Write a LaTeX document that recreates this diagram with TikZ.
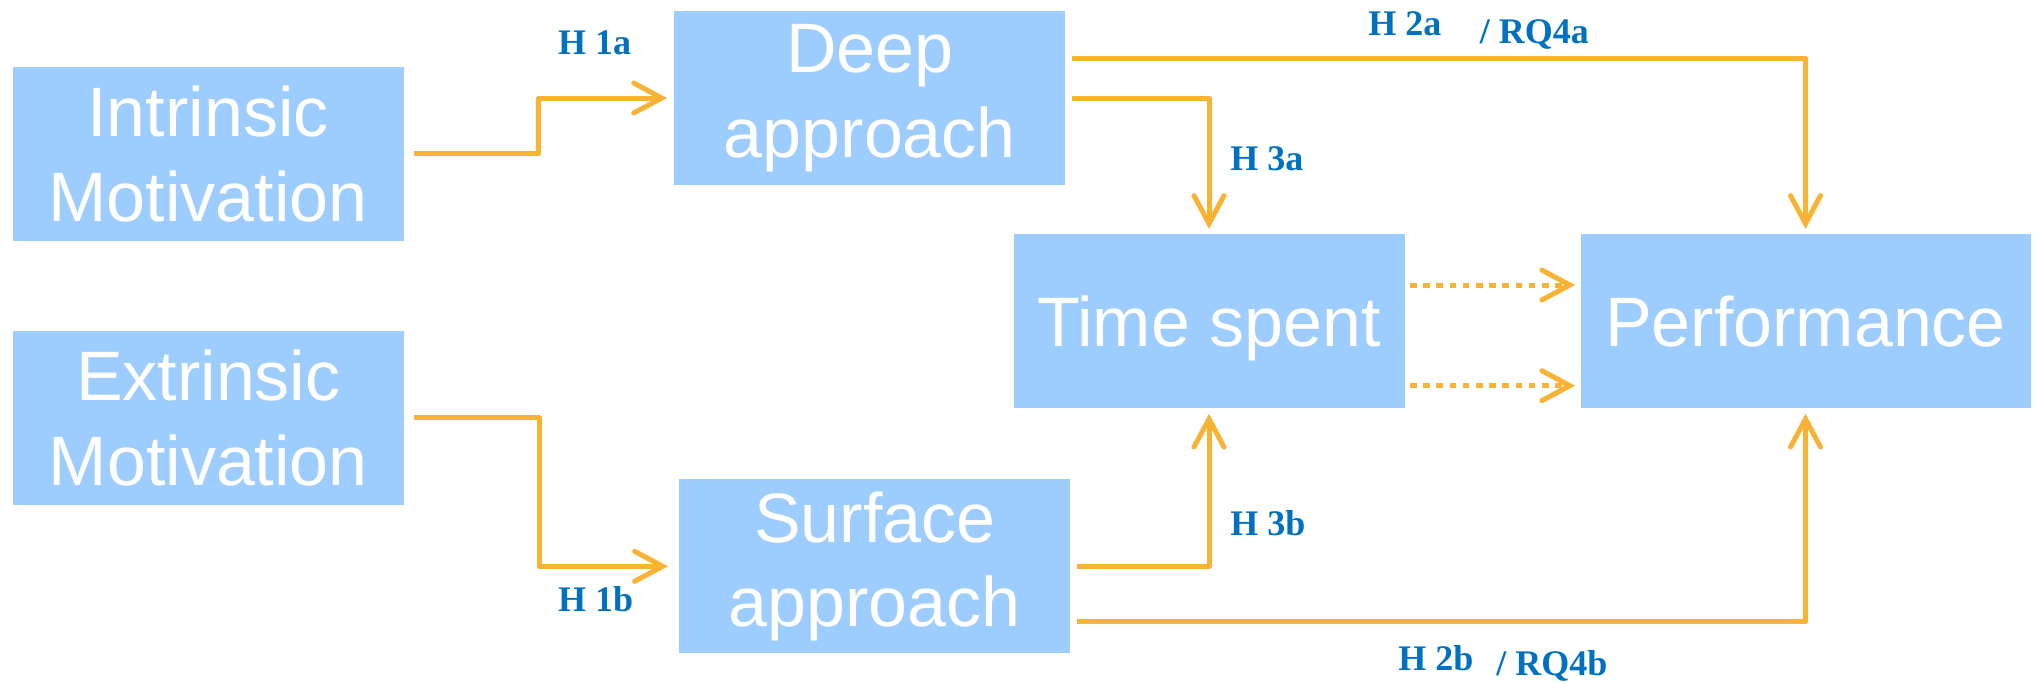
\documentclass[tikz,border=0pt]{standalone}
\usepackage{fontspec}
\setmainfont{Liberation Serif}
\newfontfamily\boxfont{Liberation Sans}
\usetikzlibrary{arrows.meta}
\definecolor{boxblue}{RGB}{157,204,254}
\definecolor{arrorange}{RGB}{248,178,52}
\definecolor{lblblue}{RGB}{0,112,192}
\begin{document}
\begin{tikzpicture}[x=0.5pt,y=-0.5pt,
  bx/.style={fill=boxblue, draw=none, minimum height=87pt, minimum width=195.5pt, inner sep=0pt,
    text=white, font=\boxfont\fontsize{35pt}{42.3pt}\selectfont, align=center},
  conn/.style={draw=arrorange, line width=2.5pt, line join=round,
    -{Straight Barb[length=14pt,width=15pt,line cap=round]}},
  dotconn/.style={conn, dash pattern=on 3.3pt off 3.3pt},
  lbl/.style={text=lblblue, font=\bfseries\fontsize{18pt}{20pt}\selectfont, inner sep=0pt, anchor=base west}]
\useasboundingbox (0,0) rectangle (2037,682);
% boxes
\node[bx] (I) at (208,153.7) {Intrinsic\\Motivation};
\node[bx] (E) at (208.3,417.7) {Extrinsic\\Motivation};
\node[bx] (D) at (869.9,98) {Deep\\approach};
\node[bx] (S) at (874.8,566.3) {Surface\\approach};
\node[bx] (T) at (1209,321.3) {\raisebox{0pt}[\height][0pt]{Time spent}};
\node[bx, minimum width=225pt] (P) at (1805.5,321.3) {Performance};
% connectors
\draw[conn] ([xshift=5pt]I.east) -- ++(124.8,0) |- ([xshift=-3.5pt]D.west);
\draw[conn] ([xshift=5pt]E.east) -- ++(124.8,0) |- ([xshift=-5.5pt]S.west);
\draw[conn] ([xshift=3pt,yshift=20pt]D.east) -| ([yshift=2.5pt]P.north);
\draw[conn] ([xshift=3pt]D.east) -| ([yshift=2.5pt]T.north);
\draw[conn] ([xshift=3pt]S.east) -| ([yshift=-2.5pt]T.south);
\draw[conn] ([xshift=3pt,yshift=-27.7pt]S.east) -| ([yshift=-2.5pt]P.south);
\draw[dotconn] ([xshift=2.5pt,yshift=18.15pt]T.east) -- ([xshift=-2.5pt,yshift=18.15pt]P.west);
\draw[dotconn] ([xshift=2.5pt,yshift=-32.2pt]T.east) -- ([xshift=-2.5pt,yshift=-32.2pt]P.west);
% labels
\node[lbl] (l1a) at (557.7,54) {H 1a};
\node[lbl] (l1b) at (557.7,611.7) {H 1b};
\node[lbl] (l2a) at (1368,35) {H 2a};
\node[lbl] (r4a) at (1479.5,43) {/ RQ4a};
\node[lbl] (l3a) at (1230,170) {H 3a};
\node[lbl] (l3b) at (1230,535) {H 3b};
\node[lbl] (l2b) at (1398,670.7) {H 2b};
\node[lbl] (r4b) at (1496,675) {/ RQ4b};
\end{tikzpicture}
\end{document}
